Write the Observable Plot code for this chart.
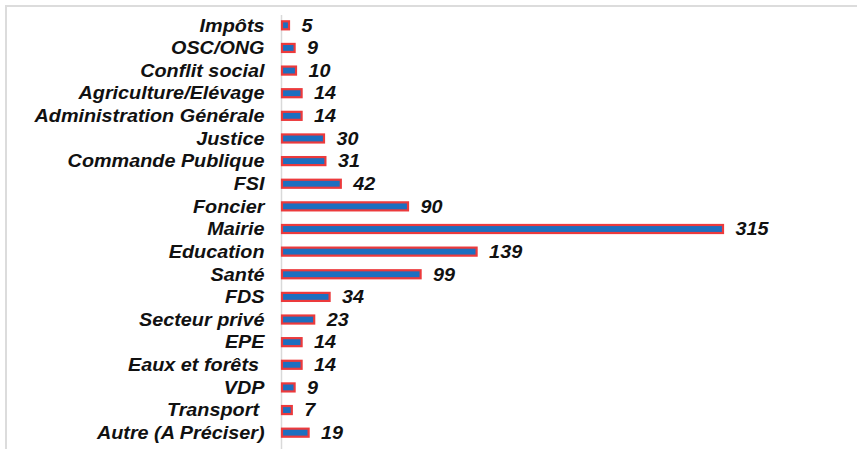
<!DOCTYPE html>
<html>
<head>
<meta charset="utf-8">
<script src="https://cdn.jsdelivr.net/npm/d3@7"></script>
<script src="https://cdn.jsdelivr.net/npm/@observablehq/plot@0.6"></script>
<style>
  html, body { margin: 0; padding: 0; background: #fff; }
  #wrap { position: relative; width: 857px; height: 449px; overflow: hidden; }
  #frame { position: absolute; left: 5px; top: 5px; width: 860px; height: 460px;
           border-top: 2px solid #dcdcdc; border-left: 2px solid #dcdcdc; box-sizing: border-box; pointer-events: none; }
  svg text { font-family: "Liberation Sans", Arial, sans-serif; font-weight: bold; font-style: italic; }
</style>
</head>
<body>
<div id="wrap"><div id="frame"></div></div>
<script>
const categories = ["Impôts", "OSC/ONG", "Conflit social", "Agriculture/Elévage", "Administration Générale",
  "Justice", "Commande Publique", "FSI", "Foncier", "Mairie", "Education", "Santé", "FDS",
  "Secteur privé", "EPE", "Eaux et forêts\u00a0", "VDP", "Transport\u00a0", "Autre (A Préciser)"];
const values = [5, 9, 10, 14, 14, 30, 31, 42, 90, 315, 139, 99, 34, 23, 14, 14, 9, 7, 19];

const data = categories.map((c, i) => ({cat: c, value: values[i]}));

const chart = Plot.plot({
  width: 857,
  height: 449,
  marginLeft: 282,
  marginRight: 134,
  marginTop: 14,
  marginBottom: 5,
  style: {background: "transparent", fontSize: "18px"},
  x: {domain: [0, 315], axis: null},
  y: {domain: categories, padding: 0, round: false, axis: null},
  marks: [
    Plot.ruleX([0], {stroke: "#d9d9d9", strokeWidth: 1.5, dx: -1, insetTop: 1, insetBottom: -5}),
    Plot.barX(data, {x: "value", y: "cat", fill: "#1c6fc0", stroke: "#ec3a3c", strokeWidth: 2.2,
      insetTop: 7.3, insetBottom: 7.3}),
    Plot.text(data, {x: "value", y: "cat", text: d => String(d.value), textAnchor: "start", dx: 12,
      fill: "#111", fontSize: 18, fontWeight: "bold", fontStyle: "italic"}),
    Plot.text(data, {x: 0, y: "cat", text: "cat", textAnchor: "end", dx: -18,
      fill: "#111", fontSize: 18, fontWeight: "bold", fontStyle: "italic"})
  ]
});
chart.style.position = "absolute";
chart.style.left = "0px";
chart.style.top = "0px";
document.getElementById("wrap").prepend(chart);

// horizontally widen text glyphs a little, as in the reference rendering
chart.querySelectorAll("text").forEach(t => {
  const len = t.getComputedTextLength();
  if (len > 0) {
    t.setAttribute("textLength", (len * 1.1).toFixed(1));
    t.setAttribute("lengthAdjust", "spacingAndGlyphs");
  }
});
</script>
</body>
</html>
